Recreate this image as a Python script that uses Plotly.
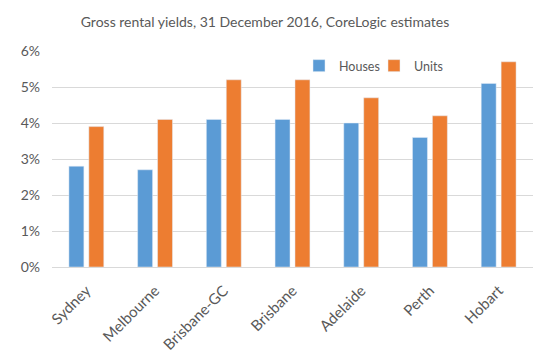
import plotly.graph_objects as go

cities = ["Sydney", "Melbourne", "Brisbane-GC", "Brisbane", "Adelaide", "Perth", "Hobart"]
houses = [2.8, 2.7, 4.1, 4.1, 4.0, 3.6, 5.1]
units = [3.9, 4.1, 5.2, 5.2, 4.7, 4.2, 5.7]
y_ticks = [0, 1, 2, 3, 4, 5, 6]
y_tick_labels = ["0%", "1%", "2%", "3%", "4%", "5%", "6%"]

FONT = "Lato"
TXT = "#595959"
OFF = 8  # page body margin offset

fig = go.Figure()
fig.add_trace(go.Bar(x=cities, y=houses, name="Houses", marker_color="#5B9BD5",
                     legend="legend", showlegend=True))
fig.add_trace(go.Bar(x=cities, y=units, name="Units", marker_color="#ED7D31",
                     legend="legend2", showlegend=True))

L = 52 - OFF
T = 51 - OFF
B = 360 - (266.7 - OFF)
R = 548 - (533 - OFF)
PW = 548 - L - R
PH = 360 - T - B

leg_common = dict(orientation="h", xanchor="left", yanchor="middle",
                  y=(266.7 - 66) / PH,
                  font=dict(family=FONT, size=12.5, color=TXT),
                  bgcolor="rgba(0,0,0,0)", itemwidth=30, visible=True)

fig.update_layout(
    width=548, height=360,
    showlegend=True,
    margin=dict(l=L, r=R, t=T, b=B, autoexpand=False),
    paper_bgcolor="white", plot_bgcolor="white",
    barmode="group", bargap=0.42, bargroupgap=0.25,
    title=dict(text="Gross rental yields, 31 December 2016, CoreLogic estimates",
               x=(265 - OFF) / 548, xanchor="center", y=1 - (22 - OFF) / 360, yanchor="middle",
               font=dict(family=FONT, size=14, color=TXT)),
    legend=dict(x=(299 - OFF - L) / PW, **leg_common),
    legend2=dict(x=(374 - OFF - L) / PW, **leg_common),
    font=dict(family=FONT, color=TXT),
)
fig.update_yaxes(range=[0, 6], tickvals=y_ticks, ticktext=y_tick_labels,
                 showgrid=True, gridcolor="#D9D9D9", gridwidth=1,
                 zeroline=False, showline=False, automargin=False,
                 ticklabelstandoff=11,
                 tickfont=dict(family=FONT, size=14, color=TXT), ticks="", ticklen=0)
fig.update_xaxes(tickangle=-45, showline=True, linecolor="#D9D9D9", linewidth=1,
                 automargin=False, ticklabelstandoff=8,
                 tickfont=dict(family=FONT, size=15, color=TXT), ticks="")

fig.write_html("out.html")
